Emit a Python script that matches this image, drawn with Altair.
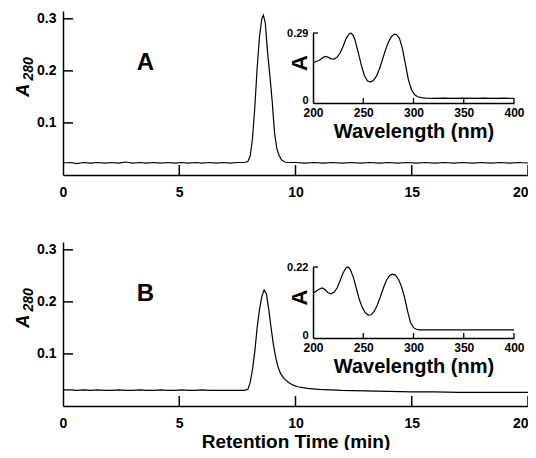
import altair as alt
import pandas as pd

# ---------------- data ----------------
time_a = [0.0, 0.3, 0.6, 0.9, 1.2, 1.5, 1.8, 2.1, 2.4, 2.7, 3.0, 3.3, 3.6, 3.9, 4.2, 4.5,
          4.8, 5.1, 5.4, 5.7, 6.0, 6.3, 6.6, 6.9, 7.2, 7.5, 7.8, 7.95, 8.05, 8.15, 8.25,
          8.35, 8.45, 8.55, 8.62, 8.7, 8.8, 8.9, 9.0, 9.1, 9.2, 9.3, 9.4, 9.55, 9.7, 10.0,
          10.4, 10.8, 11.2, 11.6, 12.0, 12.4, 12.8, 13.2, 13.6, 14.0, 14.4, 14.8, 15.2,
          15.6, 16.0, 16.4, 16.8, 17.2, 17.6, 18.0, 18.4, 18.8, 19.2, 19.6, 20.0]
abs_a = [0.023, 0.024, 0.022, 0.024, 0.023, 0.024, 0.023, 0.024, 0.023, 0.025, 0.023, 0.024,
         0.023, 0.024, 0.023, 0.024, 0.023, 0.024, 0.023, 0.024, 0.023, 0.024, 0.023, 0.024,
         0.023, 0.024, 0.024, 0.026, 0.036, 0.07, 0.13, 0.205, 0.265, 0.3, 0.307, 0.292,
         0.235, 0.19, 0.14, 0.08, 0.05, 0.037, 0.029, 0.025, 0.024, 0.024, 0.023, 0.024,
         0.023, 0.024, 0.023, 0.024, 0.023, 0.024, 0.023, 0.024, 0.023, 0.024, 0.023, 0.024,
         0.023, 0.024, 0.023, 0.024, 0.023, 0.024, 0.023, 0.024, 0.023, 0.024, 0.023]

time_b = [0.0, 0.3, 0.6, 0.9, 1.2, 1.5, 1.8, 2.1, 2.4, 2.7, 3.0, 3.3, 3.6, 3.9, 4.2, 4.5,
          4.8, 5.1, 5.4, 5.7, 6.0, 6.3, 6.6, 6.9, 7.2, 7.5, 7.8, 7.95, 8.05, 8.15, 8.25,
          8.35, 8.45, 8.55, 8.65, 8.75, 8.85, 8.95, 9.05, 9.15, 9.25, 9.35, 9.5, 9.7, 9.9,
          10.1, 10.5, 11.0, 11.5, 12.0, 13.0, 14.0, 15.0, 16.0, 17.0, 18.0, 19.0, 20.0]
abs_b = [0.031, 0.031, 0.030, 0.031, 0.030, 0.031, 0.030, 0.030, 0.031, 0.030, 0.030, 0.031,
         0.030, 0.030, 0.031, 0.030, 0.030, 0.031, 0.030, 0.030, 0.031, 0.030, 0.030, 0.030,
         0.030, 0.030, 0.030, 0.032, 0.045, 0.07, 0.105, 0.15, 0.185, 0.21, 0.223, 0.215,
         0.185, 0.15, 0.118, 0.093, 0.075, 0.063, 0.053, 0.045, 0.04, 0.037, 0.034, 0.032,
         0.031, 0.030, 0.029, 0.028, 0.027, 0.027, 0.026, 0.026, 0.026, 0.026]

wl_a = [200, 203, 206, 209, 212, 215, 218, 221, 224, 227, 230, 233, 236, 238, 240, 242, 245,
        248, 251, 254, 257, 260, 263, 266, 269, 272, 275, 278, 281, 283, 286, 289, 292, 295,
        298, 301, 304, 308, 312, 320, 330, 340, 350, 360, 370, 380, 390, 400]
spec_a = [0.166, 0.172, 0.176, 0.185, 0.193, 0.19, 0.183, 0.182, 0.19, 0.207, 0.235, 0.268,
          0.287, 0.289, 0.28, 0.258, 0.21, 0.158, 0.115, 0.092, 0.087, 0.093, 0.11, 0.14,
          0.178, 0.218, 0.252, 0.275, 0.285, 0.284, 0.268, 0.225, 0.16, 0.095, 0.055, 0.035,
          0.026, 0.022, 0.02, 0.019, 0.02, 0.019, 0.02, 0.019, 0.02, 0.019, 0.02, 0.019]

wl_b = [200, 203, 206, 209, 212, 215, 218, 221, 224, 227, 230, 233, 235, 237, 240, 243, 246,
        249, 252, 255, 258, 261, 264, 267, 270, 273, 276, 279, 282, 285, 288, 291, 294, 297,
        300, 303, 306, 315, 330, 345, 360, 375, 390, 400]
spec_b = [0.139, 0.145, 0.151, 0.155, 0.15, 0.14, 0.137, 0.142, 0.155, 0.178, 0.202, 0.218,
          0.22, 0.213, 0.19, 0.155, 0.12, 0.095, 0.078, 0.071, 0.072, 0.083, 0.102, 0.127,
          0.155, 0.178, 0.193, 0.198, 0.195, 0.182, 0.16, 0.127, 0.085, 0.048, 0.032, 0.027,
          0.025, 0.025, 0.025, 0.025, 0.025, 0.025, 0.025, 0.025]

main_x_ticks = [0, 5, 10, 15, 20]
main_y_ticks = [0.1, 0.2, 0.3]
inset_x_ticks = [200, 250, 300, 350, 400]

FONT = "Liberation Sans"
W, H = 465, 439          # whole frame; svg = 520 x 442 with padding


def main_group(times, absv, letter, yrange, xoffset, last):
    xs = alt.Scale(domain=[0, 20], range=[0, W], nice=False, zero=False)
    ys = alt.Scale(domain=[0, 0.315], range=yrange, nice=False)
    xaxis_kw = dict(orient="bottom", offset=xoffset, values=main_x_ticks, ticks=False,
                    labelPadding=10, labelFontSize=14, grid=False, labelFlush=False,
                    labelAlign={"condition": {"test": "datum.value >= 20", "value": "right"},
                                "value": "center"})
    if last:
        xaxis_kw.update(title="Retention Time (min)", titleFontSize=19, titlePadding=2)
    else:
        xaxis_kw.update(title=None)
    xaxis = alt.Axis(**xaxis_kw)
    yaxis = alt.Axis(orient="left", values=main_y_ticks, ticks=False, labelPadding=7,
                     labelFontSize=14, grid=False, title=None, format=".1f")

    df = pd.DataFrame({"t": times, "a": absv})
    line = alt.Chart(df).mark_line(color="black", strokeWidth=1.2).encode(
        x=alt.X("t:Q", scale=xs, axis=xaxis),
        y=alt.Y("a:Q", scale=ys, axis=yaxis),
    )
    xt = alt.Chart(pd.DataFrame({"v": main_x_ticks[1:]})).mark_rule(
        color="black", strokeWidth=1.5).encode(
        x=alt.X("v:Q", scale=xs, axis=xaxis),
        y=alt.YDatum(0, scale=ys, axis=yaxis), y2=alt.datum(0.019))
    yt = alt.Chart(pd.DataFrame({"v": main_y_ticks})).mark_rule(
        color="black", strokeWidth=1.5).encode(
        y=alt.Y("v:Q", scale=ys, axis=yaxis),
        x=alt.XDatum(0, scale=xs, axis=xaxis), x2=alt.datum(0.43))
    lab = alt.Chart(pd.DataFrame({"s": [letter]})).mark_text(
        font=FONT, fontSize=24, fontWeight="bold", color="black").encode(
        x=alt.XDatum(3.55, scale=xs, axis=xaxis), y=alt.YDatum(0.215, scale=ys, axis=yaxis),
        text="s:N")
    ya = alt.Chart(pd.DataFrame({"s": ["A"]})).mark_text(
        font=FONT, fontSize=18, fontWeight="bold", fontStyle="italic", angle=270,
        color="black").encode(
        x=alt.XDatum(-1.66, scale=xs, axis=xaxis), y=alt.YDatum(0.163, scale=ys, axis=yaxis),
        text="s:N")
    ysub = alt.Chart(pd.DataFrame({"s": ["280"]})).mark_text(
        font=FONT, fontSize=14, fontWeight="bold", fontStyle="italic", angle=270,
        color="black").encode(
        x=alt.XDatum(-1.47, scale=xs, axis=xaxis), y=alt.YDatum(0.204, scale=ys, axis=yaxis),
        text="s:N")
    return alt.layer(line, xt, yt, lab, ya, ysub)


def inset_group(wl, spec, inset_top, yrange, xoffset):
    isx = alt.Scale(domain=[200, 400], range=[250, 451], nice=False, zero=False)
    isy = alt.Scale(domain=[0, inset_top], range=yrange, nice=False)
    ixaxis = alt.Axis(orient="bottom", offset=xoffset, values=inset_x_ticks, ticks=False,
                      labelPadding=4, labelFontSize=12, grid=False, labelFlush=False,
                      title="Wavelength (nm)", titleFontSize=20, titlePadding=3)
    iyaxis = alt.Axis(orient="left", offset=-250, values=[0, inset_top], ticks=False,
                      labelPadding=5, labelFontSize=11, grid=False, title=None,
                      labelBaseline={"condition": {"test": "datum.value == 0",
                                                   "value": "alphabetic"},
                                     "value": "middle"},
                      labelExpr="datum.value == 0 ? '0' : format(datum.value, '.2f')")
    dfs = pd.DataFrame({"w": wl, "s": spec})
    iline = alt.Chart(dfs).mark_line(color="black", strokeWidth=1.2).encode(
        x=alt.X("w:Q", scale=isx, axis=ixaxis),
        y=alt.Y("s:Q", scale=isy, axis=iyaxis),
    )
    ixt = alt.Chart(pd.DataFrame({"v": inset_x_ticks[1:]})).mark_rule(
        color="black", strokeWidth=1.3).encode(
        x=alt.X("v:Q", scale=isx, axis=ixaxis),
        y=alt.YDatum(0, scale=isy, axis=iyaxis),
        y2=alt.datum(inset_top * 5.0 / 70.0))
    iyt = alt.Chart(pd.DataFrame({"v": [inset_top]})).mark_rule(
        color="black", strokeWidth=1.3).encode(
        y=alt.Y("v:Q", scale=isy, axis=iyaxis),
        x=alt.XDatum(200, scale=isx, axis=ixaxis), x2=alt.datum(205))
    ititle = alt.Chart(pd.DataFrame({"s": ["A"]})).mark_text(
        font=FONT, fontSize=22, fontWeight="bold", angle=270, color="black").encode(
        x=alt.XDatum(187, scale=isx, axis=ixaxis),
        y=alt.YDatum(inset_top * 0.57, scale=isy, axis=iyaxis), text="s:N")
    return alt.layer(iline, ixt, iyt, ititle)


# frame origin = page (63, 11); panel A plot 164 px tall, panel B starts at frame y 231
main_a = main_group(time_a, abs_a, "A", [164, 0], -(H - 164), False)
inset_a = inset_group(wl_a, spec_a, 0.29, [92, 22], -(H - 92))
main_b = main_group(time_b, abs_b, "B", [395, 231], -(H - 395), True)
inset_b = inset_group(wl_b, spec_b, 0.22, [327, 256], -(H - 327))

chart = alt.layer(main_a, inset_a, main_b, inset_b).resolve_scale(
    x="independent", y="independent"
).properties(
    width=W, height=H,
    autosize=alt.AutoSizeParams(type="none"),
    padding={"left": 55, "top": 3, "right": 0, "bottom": 0},
).configure_view(stroke=None).configure_axis(
    labelFont=FONT, titleFont=FONT, labelFontWeight="bold", titleFontWeight="bold",
    labelColor="black", titleColor="black", domainColor="black", domainWidth=1.5,
)

chart.save("out.html", embed_options={"renderer": "svg", "actions": False})
